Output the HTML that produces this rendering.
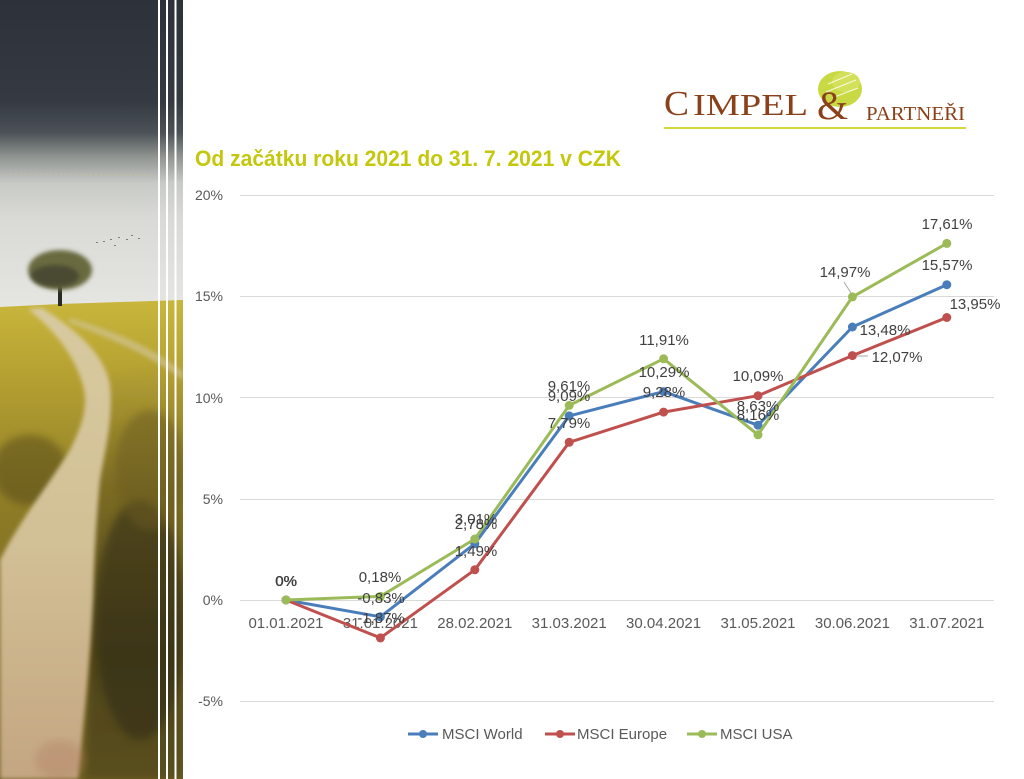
<!DOCTYPE html>
<html>
<head>
<meta charset="utf-8">
<style>
  html,body{margin:0;padding:0;background:#ffffff;}
  body{width:1024px;height:779px;overflow:hidden;position:relative;}
  svg{position:absolute;left:0;top:0;}
  text{font-family:"Liberation Sans",sans-serif;}
</style>
</head>
<body>
<svg width="1024" height="779" viewBox="0 0 1024 779" xmlns="http://www.w3.org/2000/svg">
  <defs>
    <linearGradient id="sky" x1="0" y1="0" x2="0" y2="1">
      <stop offset="0" stop-color="#2d3139"/>
      <stop offset="0.13" stop-color="#353a42"/>
      <stop offset="0.17" stop-color="#4b5157"/>
      <stop offset="0.20" stop-color="#8d928f"/>
      <stop offset="0.235" stop-color="#c8cac6"/>
      <stop offset="0.28" stop-color="#d9dad6"/>
      <stop offset="0.40" stop-color="#e6e6e2"/>
      <stop offset="1" stop-color="#e6e6e2"/>
    </linearGradient>
    <linearGradient id="fieldL" x1="0" y1="0" x2="0" y2="1">
      <stop offset="0" stop-color="#c8b63c"/>
      <stop offset="0.15" stop-color="#b6a232"/>
      <stop offset="0.45" stop-color="#8c7a26"/>
      <stop offset="1" stop-color="#6e5f20"/>
    </linearGradient>
    <linearGradient id="fieldR" x1="0" y1="0" x2="0" y2="1">
      <stop offset="0" stop-color="#b8a434"/>
      <stop offset="0.3" stop-color="#7c6c24"/>
      <stop offset="0.7" stop-color="#4e4419"/>
      <stop offset="1" stop-color="#5a4e1c"/>
    </linearGradient>
    <linearGradient id="pathG" x1="0" y1="0" x2="0" y2="1">
      <stop offset="0" stop-color="#d8caa0"/>
      <stop offset="0.5" stop-color="#d2c096"/>
      <stop offset="1" stop-color="#c4a682"/>
    </linearGradient>
    <filter id="blur2"><feGaussianBlur stdDeviation="2"/></filter>
    <filter id="blur4"><feGaussianBlur stdDeviation="4"/></filter>
    <clipPath id="photoClip"><rect x="0" y="0" width="183" height="779"/></clipPath>
  </defs>

  <!-- Left photo -->
  <g clip-path="url(#photoClip)">
    <rect x="0" y="0" width="183" height="779" fill="url(#sky)"/>
    <line x1="5" y1="174" x2="155" y2="175" stroke="#c9c98a" stroke-width="1" stroke-dasharray="2 3" opacity="0.6"/>
    <!-- field -->
    <path d="M0,307 L60,304 L183,300 L183,779 L0,779 Z" fill="url(#fieldL)"/>
    <path d="M95,380 L183,360 L183,779 L85,779 Z" fill="url(#fieldR)" filter="url(#blur4)"/>
    <!-- dark grass patches -->
    <ellipse cx="30" cy="470" rx="38" ry="35" fill="#4a4018" opacity="0.45" filter="url(#blur4)"/>
    <ellipse cx="140" cy="620" rx="45" ry="120" fill="#2e2a12" opacity="0.55" filter="url(#blur4)"/>
    <ellipse cx="150" cy="470" rx="35" ry="60" fill="#6a5c20" opacity="0.5" filter="url(#blur4)"/>
    <!-- path -->
    <path d="M28,309 L42,308 C68,325 104,350 110,385 C113,420 106,445 100,480 C96,520 94,560 93,600 C90,660 84,720 78,779 L0,779 L0,560 C20,520 45,490 70,450 C80,430 88,410 84,390 C78,360 55,330 28,309 Z" fill="url(#pathG)" filter="url(#blur2)"/>
    <path d="M70,318 C110,330 150,345 183,372 L183,380 C150,355 110,338 68,322 Z" fill="#d0c494" opacity="0.7" filter="url(#blur2)"/>
    <ellipse cx="60" cy="760" rx="25" ry="20" fill="#b07a60" opacity="0.35" filter="url(#blur4)"/>
    <!-- tree -->
    <rect x="58" y="280" width="4" height="26" fill="#2a2a22"/>
    <ellipse cx="60" cy="270" rx="32" ry="20" fill="#6a6a40" filter="url(#blur2)"/>
    <ellipse cx="55" cy="276" rx="24" ry="11" fill="#3c3c2e" opacity="0.7" filter="url(#blur2)"/>
    <!-- birds -->
    <g fill="#555" opacity="0.7">
      <rect x="96" y="242" width="2" height="1"/><rect x="103" y="241" width="2" height="1"/>
      <rect x="110" y="239" width="2" height="1"/><rect x="118" y="237" width="2" height="1"/>
      <rect x="126" y="239" width="2" height="1"/><rect x="114" y="245" width="2" height="1"/>
      <rect x="131" y="235" width="2" height="1"/><rect x="138" y="238" width="2" height="1"/>
    </g>
  </g>
  <!-- white vertical stripes -->
  <rect x="158" y="0" width="2" height="779" fill="#ffffff"/>
  <rect x="166" y="0" width="2" height="779" fill="#ffffff"/>
  <rect x="174.5" y="0" width="2" height="779" fill="#ffffff"/>

  <!-- Logo -->
  <g>
    <ellipse cx="840" cy="89" rx="22" ry="18" fill="#c9d944"/>
    <ellipse cx="846" cy="82" rx="14" ry="10" fill="#d3e15a"/>
    <path d="M828,84 L852,74 M826,92 L856,80 M832,98 L858,88" stroke="#ffffff" stroke-width="1.2" opacity="0.8"/>
    <text x="664" y="115" fill="#8a411a" font-size="35" textLength="25" lengthAdjust="spacingAndGlyphs" style="font-family:'Liberation Serif',serif">C</text>
    <text x="693" y="115" fill="#8a411a" font-size="31" textLength="115" lengthAdjust="spacingAndGlyphs" style="font-family:'Liberation Serif',serif">IMPEL</text>
    <text x="817" y="119" fill="#8a411a" font-size="40" style="font-family:'Liberation Serif',serif">&amp;</text>
    <text x="866" y="120" fill="#8a411a" font-size="20" textLength="99" lengthAdjust="spacingAndGlyphs" style="font-family:'Liberation Serif',serif">PARTNEŘI</text>
    <rect x="664" y="127" width="302" height="2" fill="#d3d93a"/>
  </g>

  <!-- Title -->
  <text x="195" y="166" font-size="22" font-weight="bold" fill="#c4c80c" textLength="426" lengthAdjust="spacingAndGlyphs">Od začátku roku 2021 do 31. 7. 2021 v CZK</text>

  <!-- Gridlines -->
  <g stroke="#d9d9d9" stroke-width="1">
    <line x1="240" y1="195.5" x2="994" y2="195.5"/>
    <line x1="240" y1="296.5" x2="994" y2="296.5"/>
    <line x1="240" y1="397.5" x2="994" y2="397.5"/>
    <line x1="240" y1="499.5" x2="994" y2="499.5"/>
    <line x1="240" y1="600.5" x2="994" y2="600.5"/>
    <line x1="240" y1="701.5" x2="994" y2="701.5"/>
  </g>

  <!-- Y axis labels -->
  <g font-size="14" fill="#595959" text-anchor="end">
    <text x="223" y="200">20%</text>
    <text x="223" y="301">15%</text>
    <text x="223" y="403">10%</text>
    <text x="223" y="504">5%</text>
    <text x="223" y="605">0%</text>
    <text x="223" y="706">-5%</text>
  </g>

  <!-- X axis labels -->
  <g font-size="15" fill="#595959" text-anchor="middle">
    <text x="286" y="628">01.01.2021</text>
    <text x="380.4" y="628">31.01.2021</text>
    <text x="474.8" y="628">28.02.2021</text>
    <text x="569.2" y="628">31.03.2021</text>
    <text x="663.6" y="628">30.04.2021</text>
    <text x="758" y="628">31.05.2021</text>
    <text x="852.4" y="628">30.06.2021</text>
    <text x="946.8" y="628">31.07.2021</text>
  </g>

  <!-- Series: MSCI World -->
  <g fill="#4a7ebb" stroke="none">
    <polyline points="286,600 380.4,616.8 474.8,543.7 569.2,415.9 663.6,391.6 758,425.2 852.4,327 946.8,284.7" fill="none" stroke="#4a7ebb" stroke-width="3" stroke-linejoin="round" stroke-linecap="round"/>
    <circle cx="286" cy="600" r="4.5"/><circle cx="380.4" cy="616.8" r="4.5"/><circle cx="474.8" cy="543.7" r="4.5"/>
    <circle cx="569.2" cy="415.9" r="4.5"/><circle cx="663.6" cy="391.6" r="4.5"/><circle cx="758" cy="425.2" r="4.5"/>
    <circle cx="852.4" cy="327" r="4.5"/><circle cx="946.8" cy="284.7" r="4.5"/>
  </g>
  <!-- Series: MSCI Europe -->
  <g fill="#c0504d" stroke="none">
    <polyline points="286,600 380.4,637.9 474.8,569.8 569.2,442.3 663.6,412.1 758,395.7 852.4,355.6 946.8,317.5" fill="none" stroke="#c0504d" stroke-width="3" stroke-linejoin="round" stroke-linecap="round"/>
    <circle cx="286" cy="600" r="4.5"/><circle cx="380.4" cy="637.9" r="4.5"/><circle cx="474.8" cy="569.8" r="4.5"/>
    <circle cx="569.2" cy="442.3" r="4.5"/><circle cx="663.6" cy="412.1" r="4.5"/><circle cx="758" cy="395.7" r="4.5"/>
    <circle cx="852.4" cy="355.6" r="4.5"/><circle cx="946.8" cy="317.5" r="4.5"/>
  </g>
  <!-- Series: MSCI USA -->
  <g fill="#9bbb59" stroke="none">
    <polyline points="286,600 380.4,596.4 474.8,539 569.2,405.4 663.6,358.8 758,434.8 852.4,296.9 946.8,243.4" fill="none" stroke="#9bbb59" stroke-width="3" stroke-linejoin="round" stroke-linecap="round"/>
    <circle cx="286" cy="600" r="4.5"/><circle cx="380.4" cy="596.4" r="4.5"/><circle cx="474.8" cy="539" r="4.5"/>
    <circle cx="569.2" cy="405.4" r="4.5"/><circle cx="663.6" cy="358.8" r="4.5"/><circle cx="758" cy="434.8" r="4.5"/>
    <circle cx="852.4" cy="296.9" r="4.5"/><circle cx="946.8" cy="243.4" r="4.5"/>
  </g>

  <!-- Leader lines -->
  <g stroke="#a6a6a6" stroke-width="1">
    <line x1="844" y1="282" x2="851" y2="293"/>
    <line x1="857" y1="356" x2="868" y2="356"/>
  </g>

  <!-- Data labels -->
  <g font-size="15" fill="#404040" text-anchor="middle">
    <!-- World -->
    <text x="286" y="586">0%</text>
    <text x="381" y="603">-0,83%</text>
    <text x="476" y="529">2,78%</text>
    <text x="569" y="401">9,09%</text>
    <text x="664" y="377">10,29%</text>
    <text x="758" y="411">8,63%</text>
    <text x="885" y="335">13,48%</text>
    <text x="947" y="270">15,57%</text>
    <!-- Europe -->
    <text x="286" y="586">0%</text>
    <text x="381" y="623">-1,87%</text>
    <text x="476" y="556">1,49%</text>
    <text x="569" y="428">7,79%</text>
    <text x="664" y="397">9,28%</text>
    <text x="758" y="381">10,09%</text>
    <text x="897" y="362">12,07%</text>
    <text x="975" y="309">13,95%</text>
    <!-- USA -->
    <text x="286.4" y="586">0%</text>
    <text x="380" y="582">0,18%</text>
    <text x="476" y="524">3,01%</text>
    <text x="569" y="391">9,61%</text>
    <text x="664" y="345">11,91%</text>
    <text x="758" y="420">8,16%</text>
    <text x="845" y="277">14,97%</text>
    <text x="947" y="229">17,61%</text>
  </g>

  <!-- Legend -->
  <g>
    <line x1="408" y1="734" x2="438" y2="734" stroke="#4a7ebb" stroke-width="3"/>
    <circle cx="423" cy="734" r="4" fill="#4a7ebb"/>
    <text x="442" y="739" font-size="15" fill="#595959">MSCI World</text>
    <line x1="545" y1="734" x2="575" y2="734" stroke="#c0504d" stroke-width="3"/>
    <circle cx="560" cy="734" r="4" fill="#c0504d"/>
    <text x="577" y="739" font-size="15" fill="#595959">MSCI Europe</text>
    <line x1="687" y1="734" x2="717" y2="734" stroke="#9bbb59" stroke-width="3"/>
    <circle cx="702" cy="734" r="4" fill="#9bbb59"/>
    <text x="720" y="739" font-size="15" fill="#595959">MSCI USA</text>
  </g>
</svg>
</body>
</html>
